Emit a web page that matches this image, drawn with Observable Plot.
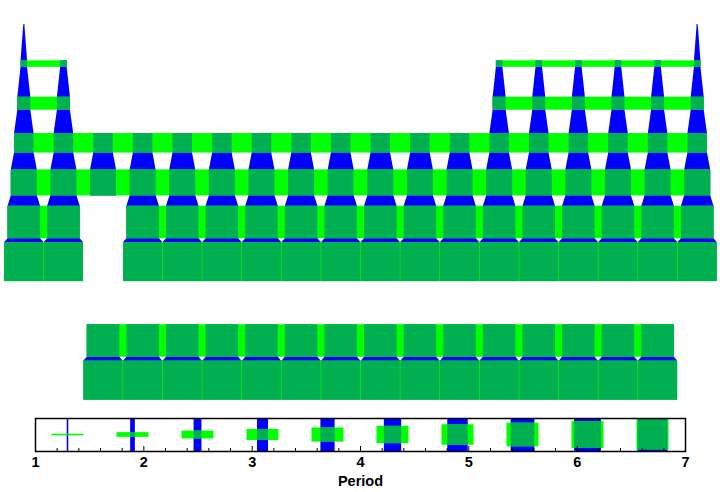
<!DOCTYPE html>
<html><head><meta charset="utf-8">
<script src="https://cdn.jsdelivr.net/npm/d3@7"></script>
<script src="https://cdn.jsdelivr.net/npm/@observablehq/plot@0.6"></script>
<style>
body{margin:0;background:#fff;}
#chart{width:720px;}
#chart svg{display:block;}
</style></head><body><div id="chart"></div>
<script>
// ---- data ----
const periods = [1, 2, 3, 4, 5, 6, 7];
const groupsByPeriod = [
  [1, 18],
  [1, 2, 13, 14, 15, 16, 17, 18],
  [1, 2, 13, 14, 15, 16, 17, 18],
  [1, 2, 3, 4, 5, 6, 7, 8, 9, 10, 11, 12, 13, 14, 15, 16, 17, 18],
  [1, 2, 3, 4, 5, 6, 7, 8, 9, 10, 11, 12, 13, 14, 15, 16, 17, 18],
  [1, 2, 4, 5, 6, 7, 8, 9, 10, 11, 12, 13, 14, 15, 16, 17, 18],
  [1, 2, 4, 5, 6, 7, 8, 9, 10, 11, 12, 13, 14, 15, 16, 17, 18]
];
const fBlockPeriods = [6, 7];           // lanthanides, actinides
const fBlockGroups = [3, 4, 5, 6, 7, 8, 9, 10, 11, 12, 13, 14, 15, 16, 17];
const legendPeriods = [1.3, 1.9, 2.5, 3.1, 3.7, 4.3, 4.9, 5.5, 6.1, 6.7];
const axisTicks = [1, 2, 3, 4, 5, 6, 7];
const axisLabel = "Period";

// ---- styling / layout ----
const BLUE = "#0000ff", GREEN = "#00ff00", DARK = "#00b050";
const size = d3.scaleLinear([1, 7], [0, 0.985]);  // glyph size by period
const pxX = 713 / 18, pxY = 36.35;
const yShiftF = 3.26;

const cells = [];
periods.forEach((p, i) => groupsByPeriod[i].forEach(g => cells.push({p, g, row: p, block: "main"})));
fBlockPeriods.forEach(p => fBlockGroups.forEach(g => cells.push({p, g, row: p + yShiftF, block: "f"})));
cells.forEach(c => {
  c.w = Math.max(size(c.p), 1.2 / pxX);
  c.h = Math.max(size(c.p) * pxX / pxY, 1.2 / pxY);
  c.top = c.row; c.bot = c.row + c.h;
});
// green bands: one rect per contiguous run in a row
const bands = [];
d3.groups(cells, c => c.block + "|" + c.row).forEach(([k, arr]) => {
  arr.sort((a, b) => a.g - b.g);
  let start = arr[0];
  arr.forEach((c, i) => {
    const next = arr[i + 1];
    if (!next || next.g !== c.g + 1) {
      bands.push({x1: start.g - start.w / 2, x2: c.g + c.w / 2, y1: c.top, y2: c.bot});
      start = next;
    }
  });
});
// blue chains down each column
const blueRows = [];
let run = 0;
d3.groups(cells, c => c.block + "|" + c.g).forEach(([k, arr]) => {
  arr.sort((a, b) => a.p - b.p);
  arr.forEach((c, i) => {
    if (i === 0 || arr[i - 1].p !== c.p - 1) run++;
    blueRows.push({z: run, y: c.top, x1: c.g - c.w / 2, x2: c.g + c.w / 2});
    blueRows.push({z: run, y: c.bot, x1: c.g - c.w / 2, x2: c.g + c.w / 2});
  });
});

const main = Plot.plot({
  width: 720, height: 405, axis: null,
  x: {domain: [0.5, 18.5], range: [4, 717]},
  y: {domain: [1, 12], range: [24, 24 + 11 * pxY]},
  marks: [
    Plot.areaX(blueRows, {y: "y", x1: "x1", x2: "x2", z: "z", fill: BLUE, curve: "linear"}),
    Plot.rect(bands, {x1: "x1", x2: "x2", y1: "y1", y2: "y2", fill: GREEN}),
    Plot.rect(cells, {x1: d => d.g - d.w / 2, x2: d => d.g + d.w / 2, y1: "top", y2: "bot", fill: DARK})
  ]
});

// ---- legend ----
const pxL = 650 / 6, boxH = 33, greenW = 32;
const minor = d3.range(1.2, 7, 0.2).filter(v => Math.abs(v - Math.round(v)) > 0.05);
const majors = axisTicks.slice(1, -1);
const gh = p => Math.max(size(p), 0.04) * greenW / boxH / 2;
const bw = p => size(p) * greenW / 2 / pxL;
const legend = Plot.plot({
  width: 720, height: 87,
  marginLeft: 35, marginRight: 35, marginTop: 13, marginBottom: 41,
  x: {domain: [1, 7]}, y: {domain: [0, 1], axis: null},
  style: {fontFamily: "Liberation Sans, Arial, sans-serif"},
  marks: [
    Plot.rect(legendPeriods, {x1: p => p - bw(p), x2: p => p + bw(p), y1: 0, y2: 1, fill: BLUE}),
    Plot.rect(legendPeriods, {x1: p => p - greenW / 2 / pxL, x2: p => p + greenW / 2 / pxL,
      y1: p => 0.5 - gh(p), y2: p => 0.5 + gh(p), fill: GREEN}),
    Plot.rect(legendPeriods, {x1: p => p - bw(p), x2: p => p + bw(p),
      y1: p => 0.5 - gh(p), y2: p => 0.5 + gh(p), fill: DARK}),
    Plot.ruleX(minor, {x: d => d, y1: 0, y2: 3 / boxH, stroke: "black", strokeWidth: 1}),
    Plot.ruleX(majors, {x: d => d, y1: 0, y2: 5 / boxH, stroke: "black", strokeWidth: 1}),
    Plot.frame({stroke: "black", strokeWidth: 1.5}),
    Plot.axisX(axisTicks, {tickSize: 0, tickPadding: 5, label: null, fontSize: 14.5, fontWeight: "bold", fill: "black", tickFormat: d => String(d)}),
    Plot.text([axisLabel], {frameAnchor: "bottom", dy: 34, fontSize: 14.5, fontWeight: "bold", fill: "black"})
  ]
});

document.getElementById("chart").append(main, legend);
</script></body></html>
